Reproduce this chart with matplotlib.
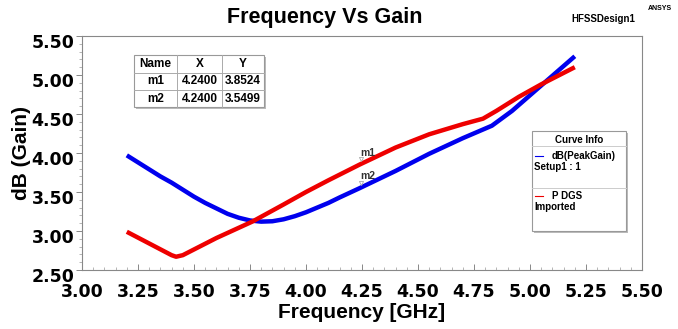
import matplotlib
matplotlib.use("Agg")
import matplotlib.pyplot as plt
from matplotlib.patches import Rectangle
from matplotlib.lines import Line2D
from matplotlib.ticker import MultipleLocator
from matplotlib.transforms import ScaledTranslation

# Curve data
blue_freq = [3.20, 3.25, 3.30, 3.35, 3.40, 3.45, 3.50, 3.55, 3.60, 3.65,
             3.70, 3.75, 3.80, 3.85, 3.90, 3.95, 4.00, 4.05, 4.10, 4.15,
             4.24, 4.40, 4.55, 4.70, 4.83, 4.92, 5.00, 5.10, 5.20]
blue_gain = [3.97, 3.88, 3.79, 3.70, 3.62, 3.53, 3.44, 3.36, 3.29, 3.22,
             3.17, 3.135, 3.12, 3.125, 3.15, 3.19, 3.24, 3.30, 3.36, 3.43,
             3.5499, 3.77, 3.99, 4.19, 4.35, 4.54, 4.74, 4.99, 5.24]

red_freq = [3.20, 3.30, 3.40, 3.42, 3.45, 3.60, 3.76, 3.90, 4.00, 4.10,
            4.24, 4.40, 4.55, 4.70, 4.79, 4.85, 4.95, 5.05, 5.20]
red_gain = [2.99, 2.84, 2.69, 2.67, 2.69, 2.91, 3.12, 3.34, 3.50, 3.65,
            3.8524, 4.07, 4.24, 4.37, 4.44, 4.54, 4.72, 4.88, 5.10]

marker_names = ["m1", "m2"]
marker_x = [4.24, 4.24]
marker_y = [3.8524, 3.5499]

x_ticks = [3.00, 3.25, 3.50, 3.75, 4.00, 4.25, 4.50, 4.75, 5.00, 5.25, 5.50]
y_ticks = [2.50, 3.00, 3.50, 4.00, 4.50, 5.00, 5.50]

W, H = 678, 329


def px(x, y):
    return x / W, 1 - y / H


fig = plt.figure(figsize=(W / 100, H / 100), dpi=100)
ax = fig.add_axes([82 / W, 1 - 270 / H, 560 / W, 234 / H])

ax.plot(blue_freq, blue_gain, color="#0000ee", lw=3.2,
        solid_joinstyle="round", solid_capstyle="butt")
ax.plot(red_freq, red_gain, color="#ee0000", lw=3.2,
        solid_joinstyle="round", solid_capstyle="butt")

# marker labels
for name, mx, my in zip(marker_names, marker_x, marker_y):
    ax.annotate(name, (mx, my), xytext=(0, 5), textcoords="offset points",
                ha="left", va="bottom", fontsize=7.5, fontweight="bold",
                family="Liberation Sans", color="#333333")
    ax.plot([mx + 0.005], [my + 0.07], marker="v", ms=3, color="#aaaaaa",
            mfc="none", mew=0.6)

ax.set_xlim(3.0, 5.5)
ax.set_ylim(2.5, 5.5)
ax.set_xticks(x_ticks)
ax.set_yticks(y_ticks)
ax.set_xticklabels([f"{v:.2f}" for v in x_ticks])
ax.set_yticklabels([f"{v:.2f}" for v in y_ticks])
ax.xaxis.set_minor_locator(MultipleLocator(0.05))
ax.yaxis.set_minor_locator(MultipleLocator(0.1))
ax.tick_params(axis="both", which="major", length=4, width=0.7, color="#888888")
ax.tick_params(axis="both", which="minor", length=2, width=0.6, color="#aaaaaa")
ax.tick_params(axis="x", which="both", direction="in", pad=9.5)
ax.tick_params(axis="y", which="major", pad=1.5)
shift_down = ScaledTranslation(0, -5 / 100, fig.dpi_scale_trans)
for lab in ax.get_xticklabels() + ax.get_yticklabels():
    lab.set_fontweight("bold")
    lab.set_fontsize(12.5)
for lab in ax.get_yticklabels():
    lab.set_transform(lab.get_transform() + shift_down)
for sp in ax.spines.values():
    sp.set_color("#888888")
    sp.set_linewidth(0.8)

ax.set_xlabel("Frequency [GHz]", fontsize=15, fontweight="bold",
              family="Liberation Sans", va="center")
ax.set_ylabel("dB (Gain)", fontsize=15, fontweight="bold",
              family="Liberation Sans", va="center")
ax.xaxis.set_label_coords(0.5, (270 - 313) / 234)
ax.yaxis.set_label_coords((22 - 82) / 560, 0.5)

fig.text(*px(325, 17), "Frequency Vs Gain", ha="center", va="center",
         fontsize=15.5, fontweight="bold", family="Liberation Sans")
fig.text(*px(603, 19), "HFSSDesign1", ha="center", va="center",
         fontsize=7, fontweight="bold", family="Liberation Sans")
fig.text(*px(660, 8), "ANSYS", ha="center", va="center",
         fontsize=5, fontweight="bold", family="Liberation Sans")

# marker table
tx0, ty0, tx1, ty1 = 134, 55, 264, 107
fig.patches.append(Rectangle(px(tx0 + 2, ty1 + 2), (tx1 - tx0) / W,
                             (ty1 - ty0) / H, transform=fig.transFigure,
                             facecolor="#bbbbbb", edgecolor="none", zorder=5))
fig.patches.append(Rectangle(px(tx0, ty1), (tx1 - tx0) / W, (ty1 - ty0) / H,
                             transform=fig.transFigure, facecolor="white",
                             edgecolor="#999999", lw=0.8, zorder=6))
col_edges = [tx0, 177, 222, tx1]
row_edges = [ty0, 73, 90, ty1]
for cx in col_edges[1:-1]:
    fig.add_artist(Line2D([cx / W, cx / W], [1 - ty0 / H, 1 - ty1 / H],
                          color="#aaaaaa", lw=0.7, zorder=7))
for ry in row_edges[1:-1]:
    fig.add_artist(Line2D([tx0 / W, tx1 / W], [1 - ry / H, 1 - ry / H],
                          color="#aaaaaa", lw=0.7, zorder=7))
table_rows = [["Name", "X", "Y"]] + [
    [n, f"{x:.4f}", f"{y:.4f}"] for n, x, y in zip(marker_names, marker_x, marker_y)
]
for r, row in enumerate(table_rows):
    cy = (row_edges[r] + row_edges[r + 1]) / 2
    for c, val in enumerate(row):
        cx = (col_edges[c] + col_edges[c + 1]) / 2
        fig.text(*px(cx, cy), val, ha="center", va="center", fontsize=8.5,
                 fontweight="bold", family="Liberation Sans", zorder=8)

# curve info box
lx0, ly0, lx1, ly1 = 532, 131, 626, 231
fig.patches.append(Rectangle(px(lx0 + 2, ly1 + 2), (lx1 - lx0) / W,
                             (ly1 - ly0) / H, transform=fig.transFigure,
                             facecolor="#bbbbbb", edgecolor="none", zorder=5))
fig.patches.append(Rectangle(px(lx0, ly1), (lx1 - lx0) / W, (ly1 - ly0) / H,
                             transform=fig.transFigure, facecolor="white",
                             edgecolor="#999999", lw=0.8, zorder=6))
for ry in [146, 188]:
    fig.add_artist(Line2D([lx0 / W, lx1 / W], [1 - ry / H, 1 - ry / H],
                          color="#cccccc", lw=0.7, zorder=7))
fig.text(*px(579, 140), "Curve Info", ha="center", va="center", fontsize=7,
         fontweight="bold", family="Liberation Sans", zorder=8)
legend_items = [("#0000ee", "dB(PeakGain)", "Setup1 : 1", 156),
                ("#ee0000", "P DGS", "Imported", 196)]
for color, name, sub, yy in legend_items:
    fig.add_artist(Line2D([535 / W, 543 / W], [1 - yy / H, 1 - yy / H],
                          color=color, lw=0.8, zorder=8))
    fig.text(*px(552, yy), name, ha="left", va="center", fontsize=7,
             fontweight="bold", family="Liberation Sans", zorder=8)
    fig.text(*px(534, yy + 11), sub, ha="left", va="center", fontsize=7,
             fontweight="bold", family="Liberation Sans", zorder=8)

fig.savefig("out.png", dpi=100)
